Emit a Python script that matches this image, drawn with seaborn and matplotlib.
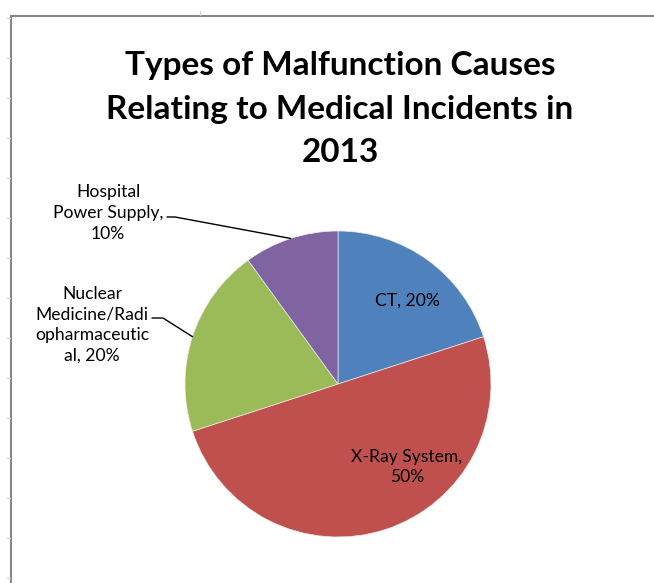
import numpy as np
import matplotlib
matplotlib.use("Agg")
import matplotlib.pyplot as plt
import seaborn as sns

# ---- data ----
categories = ["CT", "X-Ray System", "Nuclear Medicine/Radiopharmaceutical", "Hospital Power Supply"]
shares = [20, 50, 20, 10]
label_texts = ["CT, 20%",
               "X-Ray System,\n50%",
               "Nuclear\nMedicine/Radi\nopharmaceutic\nal, 20%",
               "Hospital\nPower Supply,\n10%"]
slice_colors = ["#4F81BD", "#C0504D", "#9BBB59", "#8064A2"]
title = "Types of Malfunction Causes\nRelating to Medical Incidents in\n2013"

sns.set_theme(style="white")
plt.rcParams['font.family'] = ['Lato', 'DejaVu Sans']

W, H = 654, 583
fig = plt.figure(figsize=(W / 100, H / 100), dpi=100)
fig.patch.set_facecolor("white")
ax = fig.add_axes([0, 0, 1, 1])

cx, cy, R = 338, 384, 153
palette = sns.color_palette(slice_colors)
wedges, _ = ax.pie(shares, colors=palette, startangle=90, counterclock=False,
                   radius=R, center=(cx, H - cy),
                   wedgeprops=dict(linewidth=0.5, edgecolor="#e8e8e8"))
ax.set_xlim(0, W)
ax.set_ylim(0, H)
ax.set_aspect("auto")
ax.axis("off")

# ---- frame (spreadsheet chart border) ----
frame_c = "#878787"
ax.plot([10, W], [H - 15.5, H - 15.5], color=frame_c, lw=1.5, solid_capstyle="butt")
ax.plot([11, 11], [H - 15.5, 0], color=frame_c, lw=1.5, solid_capstyle="butt")
for yy in range(18, H, 40):
    ax.plot([7, 10], [H - yy, H - yy], color="#d4d4d4", lw=0.8)
ax.plot([200, 200], [H - 11, H - 15], color="#d4d4d4", lw=0.8)

# ---- title ----
ax.text(340, H - 109, title, ha="center", va="center", fontsize=24,
        fontweight="bold", color="black", linespacing=1.6, multialignment="center")

# ---- labels ----
lab_fs = 12.6
label_pos = [(407, 301), (407, 467), (92, 325), (108, 213)]
for txt, (lx, ly) in zip(label_texts, label_pos):
    ax.text(lx, H - ly, txt, ha="center", va="center", fontsize=lab_fs,
            color="black", linespacing=1.36, multialignment="center")

# leader lines for outside labels
stubs = {2: ((152, 318), (163, 318)), 3: ((167, 217), (175, 217))}
for i, (p0, p1) in stubs.items():
    w = wedges[i]
    th = np.deg2rad((w.theta1 + w.theta2) / 2)
    ex, ey = cx + R * np.cos(th), (H - cy) + R * np.sin(th)
    ax.plot([p0[0], p1[0], ex], [H - p0[1], H - p1[1], ey], color="black", lw=1.0)

fig.savefig("out.png", dpi=100, facecolor="white")
